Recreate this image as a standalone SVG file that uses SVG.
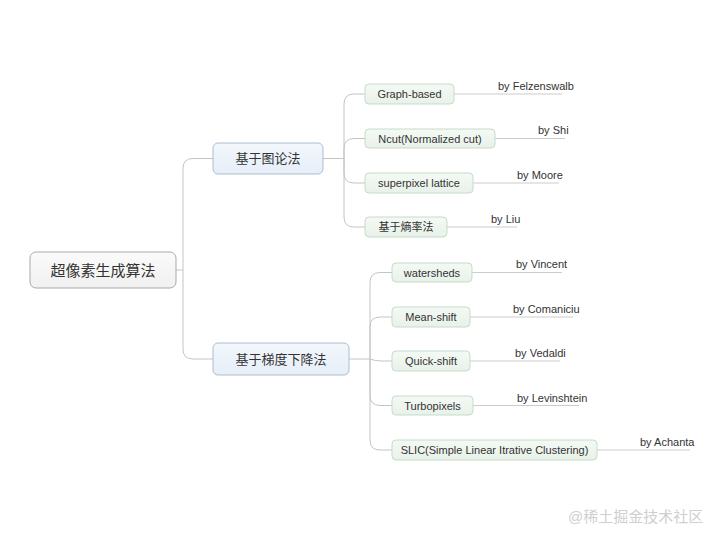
<svg xmlns="http://www.w3.org/2000/svg" width="720" height="540" viewBox="0 0 720 540">
<defs>
<linearGradient id="gRoot" x1="0" y1="0" x2="0" y2="1"><stop offset="0" stop-color="#fbfbfb"/><stop offset="1" stop-color="#f0f0f0"/></linearGradient>
<linearGradient id="gBranch" x1="0" y1="0" x2="0" y2="1"><stop offset="0" stop-color="#f3f7fc"/><stop offset="1" stop-color="#e6eef8"/></linearGradient>
<linearGradient id="gLeaf" x1="0" y1="0" x2="0" y2="1"><stop offset="0" stop-color="#f4f9f4"/><stop offset="1" stop-color="#e8f2e9"/></linearGradient>
</defs>
<style>
text{font-family:"Liberation Sans","Noto Sans CJK SC",sans-serif;fill:#333}
.root rect{fill:url(#gRoot);stroke:#a9a9a9;stroke-width:1}
.root text{font-size:15px}
.branch rect{fill:url(#gBranch);stroke:#aebdd0;stroke-width:1}
.branch text{font-size:13px}
.leaf rect{fill:url(#gLeaf);stroke:#c6dbc9;stroke-width:1}
.leaf text{font-size:11px}
.by{font-size:10px}
.conn path{fill:none;stroke:#c4c4c4;stroke-width:1}
.conn line{stroke:#cccccc;stroke-width:1}
.wm{font-size:15px;fill:#cfcfcf}
</style>
<rect width="720" height="540" fill="#ffffff"/>
<g id="connectors" class="conn">
<path d="M176,270 H183 V168.5 Q183,158.5 193,158.5 H213"/>
<path d="M183,270 V349 Q183,359 193,359 H213"/>
<path d="M323,158.5 H344 V104 Q344,94 354,94 H365"/>
<path d="M344,158.5 V148.5 Q344,138.5 354,138.5 H365"/>
<path d="M344,158.5 V173 Q344,183 354,183 H365"/>
<path d="M344,158.5 V217 Q344,227 354,227 H365"/>
<path d="M349,359 H370 V282.5 Q370,272.5 380,272.5 H392"/>
<path d="M370,359 V327 Q370,317 380,317 H392"/>
<path d="M370,359 Q375,361 382,361 H392"/>
<path d="M370,359 V395.5 Q370,405.5 380,405.5 H392"/>
<path d="M370,359 V440 Q370,450 380,450 H392"/>
<line x1="454" y1="94" x2="562" y2="94"/>
<line x1="495" y1="138.5" x2="565" y2="138.5"/>
<line x1="473" y1="183" x2="559" y2="183"/>
<line x1="447" y1="227" x2="517" y2="227"/>
<line x1="472" y1="272.5" x2="562" y2="272.5"/>
<line x1="470" y1="317" x2="573" y2="317"/>
<line x1="470" y1="361" x2="560" y2="361"/>
<line x1="473" y1="405.5" x2="579" y2="405.5"/>
<line x1="597" y1="450" x2="690" y2="450"/>
</g>
<g id="root" class="root">
<rect x="30" y="252" width="146" height="36" rx="6"/>
<text x="103" y="275.5" text-anchor="middle">超像素生成算法</text>
</g>
<g id="b1" class="branch">
<rect x="213" y="143" width="110" height="31" rx="5"/>
<text x="268" y="163" text-anchor="middle">基于图论法</text>
</g>
<g id="b2" class="branch">
<rect x="213" y="343" width="136" height="32" rx="5"/>
<text x="281" y="364" text-anchor="middle">基于梯度下降法</text>
</g>
<g id="l1" class="leaf">
<rect x="365" y="84" width="89" height="20" rx="4"/>
<text x="409.5" y="98" text-anchor="middle">Graph-based</text>
<text class="by" x="498" y="90">by Felzenswalb</text>
</g>
<g id="l2" class="leaf">
<rect x="365" y="129" width="130" height="19" rx="4"/>
<text x="430" y="142.5" text-anchor="middle">Ncut(Normalized cut)</text>
<text class="by" x="538" y="134">by Shi</text>
</g>
<g id="l3" class="leaf">
<rect x="365" y="173" width="108" height="20" rx="4"/>
<text x="419" y="187" text-anchor="middle">superpixel lattice</text>
<text class="by" x="517" y="179">by Moore</text>
</g>
<g id="l4" class="leaf">
<rect x="365" y="217" width="82" height="20" rx="4"/>
<text x="406" y="231" text-anchor="middle">基于熵率法</text>
<text class="by" x="491" y="223">by Liu</text>
</g>
<g id="l5" class="leaf">
<rect x="392" y="263" width="80" height="19" rx="4"/>
<text x="432" y="276.5" text-anchor="middle">watersheds</text>
<text class="by" x="516" y="268">by Vincent</text>
</g>
<g id="l6" class="leaf">
<rect x="392" y="307" width="78" height="20" rx="4"/>
<text x="431" y="321" text-anchor="middle">Mean-shift</text>
<text class="by" x="513" y="313">by Comaniciu</text>
</g>
<g id="l7" class="leaf">
<rect x="392" y="351" width="78" height="20" rx="4"/>
<text x="431" y="365" text-anchor="middle">Quick-shift</text>
<text class="by" x="515" y="357">by Vedaldi</text>
</g>
<g id="l8" class="leaf">
<rect x="392" y="396" width="81" height="19" rx="4"/>
<text x="432.5" y="409.5" text-anchor="middle">Turbopixels</text>
<text class="by" x="517" y="402">by Levinshtein</text>
</g>
<g id="l9" class="leaf">
<rect x="392" y="440" width="205" height="20" rx="4"/>
<text x="494.5" y="454" text-anchor="middle">SLIC(Simple Linear Itrative Clustering)</text>
<text class="by" x="640" y="446">by Achanta</text>
</g>
<text class="wm" x="568" y="522">@稀土掘金技术社区</text>
</svg>
